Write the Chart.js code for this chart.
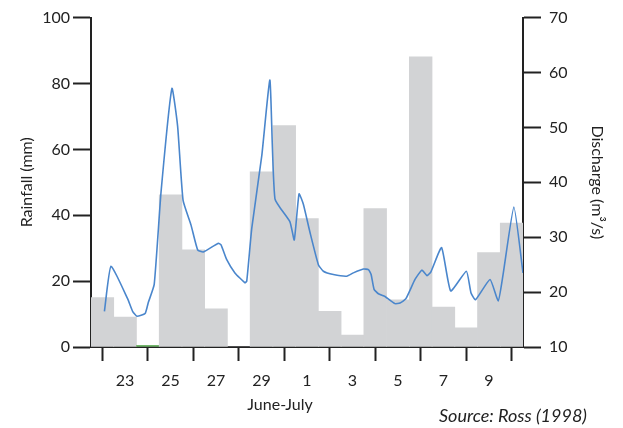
<!DOCTYPE html>
<html>
<head>
<meta charset="utf-8">
<script src="https://cdn.jsdelivr.net/npm/chart.js@4/dist/chart.umd.min.js"></script>
<style>
  html, body { margin: 0; padding: 0; background: #fff; }
  #wrap { width: 623px; height: 428px; position: relative; }
</style>
</head>
<body>
<div id="wrap"><canvas id="c"></canvas></div>
<script>
// Daily rainfall, 22 June – 10 July
const dayLabels = ['22','23','24','25','26','27','28','29','30','1','2','3','4','5','6','7','8','9','10'];
const rainfall  = [15, 9.1, 0.5, 46.2, 29.5, 11.6, 0, 53.2, 67.2, 39, 10.8, 3.6, 42, 14.3, 88.1, 12.1, 5.8, 28.7, 37.6];

// Labelled days on the date axis
const xTickDays = ['23','25','27','29','1','3','5','7','9'];

// River discharge (m3/s), sampled at fractional day positions (0 = 22 June)
const dischargeTime = [0.09,0.38,1.11,1.33,1.52,1.88,2.02,2.28,2.58,3.06,
  3.31,3.55,3.9,4.19,4.44,5.1,5.22,5.47,5.83,6.27,
  6.35,6.57,7.01,7.37,7.59,8.25,8.44,8.65,8.84,9.13,
  9.5,9.72,10.16,10.75,11.04,11.48,11.7,11.82,11.95,12.14,
  12.43,12.87,13.09,13.35,13.75,14.05,14.28,14.45,14.92,15.32,
  16.01,16.21,16.41,17.05,17.41,17.62,18.1,18.5];
const discharge = [16.5,24.7,18.8,16.5,15.6,16.1,18.1,21.4,38.2,57.1,
  50.2,36.7,32.2,27.7,27.3,28.9,28.6,25.9,23.5,21.7,
  22.0,31.6,44.8,58.6,37.0,32.8,29.5,37.9,36.0,30.9,
  25.0,23.8,23.2,22.9,23.5,24.2,24.1,23.2,20.5,19.7,
  19.2,17.9,18.0,18.8,22.3,24.0,23.0,23.7,28.1,20.2,
  23.8,19.9,18.6,22.3,18.4,23.1,35.5,23.5];

const INK = '#222222';
const FONT = 'Lato, "Noto Sans", sans-serif';
const xTickIdx = xTickDays.map(d => dayLabels.indexOf(d));

const axisGrid = {
  drawOnChartArea: false,
  drawTicks: true,
  tickColor: INK,
  tickWidth: 2
};
const axisBorder = { display: true, color: INK, width: 2 };

// Free-standing captions under the chart
const captions = {
  id: 'captions',
  afterDraw(chart) {
    const ctx = chart.ctx;
    ctx.save();
    ctx.fillStyle = INK;
    ctx.textBaseline = 'middle';
    ctx.textAlign = 'center';
    ctx.font = '16px ' + FONT;
    ctx.fillText('June-July', 280, 405);
    ctx.textAlign = 'right';
    ctx.font = 'italic 18px ' + FONT;
    ctx.fillText('Source: Ross (1998)', 587, 416);
    ctx.restore();
  }
};

new Chart(document.getElementById('c'), {
  type: 'bar',
  data: {
    labels: dayLabels,
    datasets: [
      {
        type: 'line',
        label: 'Discharge',
        data: dischargeTime.map((t, i) => ({ x: t, y: discharge[i] })),
        xAxisID: 'xd',
        yAxisID: 'yQ',
        borderColor: '#4a86cc',
        borderWidth: 1.6,
        pointRadius: 0,
        tension: 0.15,
        fill: false,
        order: 0
      },
      {
        label: 'Rainfall',
        data: rainfall,
        xAxisID: 'x',
        yAxisID: 'yR',
        backgroundColor: ctx => (ctx.raw > 0 && ctx.raw < 1) ? '#72b66b' : '#d2d3d5',
        borderWidth: 0,
        grouped: false,
        barPercentage: 1,
        categoryPercentage: 1,
        order: 1
      }
    ]
  },
  options: {
    responsive: true,
    maintainAspectRatio: false,
    animation: false,
    layout: { padding: { top: 13, left: 0, right: 0, bottom: 0 } },
    plugins: { legend: { display: false }, tooltip: { enabled: false } },
    scales: {
      x: { display: false, offset: true },
      xd: {
        type: 'linear',
        position: 'bottom',
        min: -0.5,
        max: 18.5,
        offset: false,
        afterBuildTicks: s => { s.ticks = xTickIdx.map(v => ({ value: v })); },
        afterFit: s => { s.height = 81; },
        grid: Object.assign({}, axisGrid, { tickLength: 14 }),
        border: axisBorder,
        ticks: {
          autoSkip: false,
          maxRotation: 0,
          padding: 10,
          color: INK,
          font: { family: FONT, size: 16 },
          callback: v => dayLabels[v]
        }
      },
      yR: {
        position: 'left',
        min: 0,
        max: 100,
        afterFit: s => { s.width = 91; },
        grid: Object.assign({}, axisGrid, { tickLength: 18 }),
        border: axisBorder,
        ticks: {
          stepSize: 20,
          padding: 3,
          color: INK,
          font: { family: FONT, size: 16 }
        },
        title: {
          display: true,
          text: 'Rainfall (mm)',
          color: INK,
          font: { family: FONT, size: 16 },
          padding: { top: 17, bottom: 0 }
        }
      },
      yQ: {
        position: 'right',
        min: 10,
        max: 70,
        afterFit: s => { s.width = 100; },
        grid: Object.assign({}, axisGrid, { tickLength: 18 }),
        border: axisBorder,
        ticks: {
          stepSize: 10,
          padding: 8,
          color: INK,
          font: { family: FONT, size: 16 }
        },
        title: {
          display: true,
          text: 'Discharge (m\u00B3/s)',
          color: INK,
          font: { family: FONT, size: 16 },
          padding: { top: 16, bottom: 0 }
        }
      }
    }
  },
  plugins: [captions]
});
</script>
</body>
</html>
